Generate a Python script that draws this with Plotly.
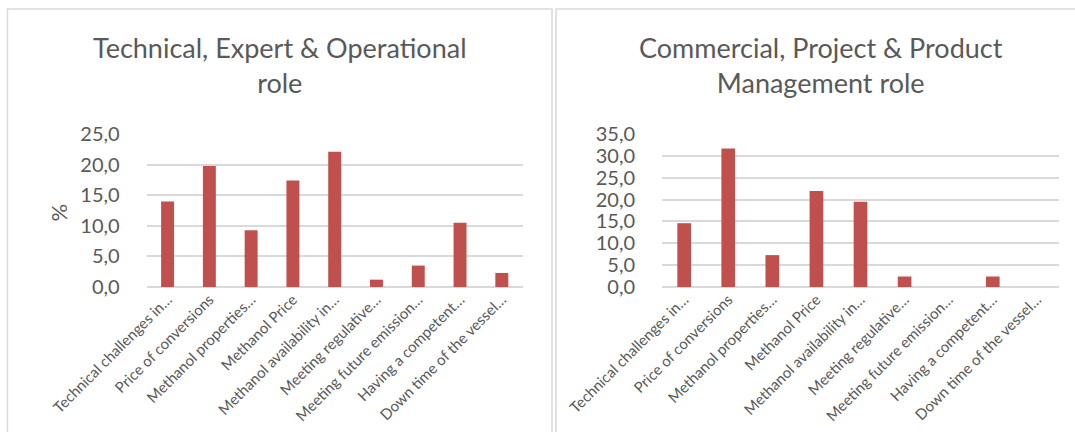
import plotly.graph_objects as go

# Survey answers: share of responses (%) per barrier, by respondent role
categories = [
    "Technical challenges in…",
    "Price of conversions",
    "Methanol properties…",
    "Methanol Price",
    "Methanol availability in…",
    "Meeting regulative…",
    "Meeting future emission…",
    "Having a competent…",
    "Down time of the vessel…",
]
technical_role = [14.0, 19.8, 9.3, 17.4, 22.1, 1.2, 3.5, 10.5, 2.3]
commercial_role = [14.6, 31.7, 7.3, 22.0, 19.5, 2.4, 0.0, 2.4, 0.0]

title_left = "Technical, Expert & Operational<br>role"
title_right = "Commercial, Project & Product<br>Management role"
y_title = "%"

W, H = 1075, 432
BAR = "#C0504D"
GRID = "#D9D9D9"
TEXT = "#595959"
FONT = "Lato"


def px(x):
    return x / W


def py(y):
    return 1 - y / H


fig = go.Figure()
fig.add_trace(go.Bar(x=categories, y=technical_role, marker_color=BAR,
                     marker_line_width=0, xaxis="x", yaxis="y"))
fig.add_trace(go.Bar(x=categories, y=commercial_role, marker_color=BAR,
                     marker_line_width=0, xaxis="x2", yaxis="y2"))

xcommon = dict(
    showgrid=False, showline=False, ticks="", tickangle=-45, automargin=False,
    tickfont=dict(family=FONT, size=15, color=TEXT), fixedrange=True,
)
ycommon = dict(
    showgrid=True, gridcolor=GRID, gridwidth=1.6, zeroline=True,
    zerolinecolor=GRID, zerolinewidth=1.6, showline=False, automargin=False,
    tickformat=".1f", dtick=5, ticks="outside", ticklen=22,
    tickcolor="rgba(0,0,0,0)",
    tickfont=dict(family=FONT, size=20, color=TEXT),
)

fig.update_layout(
    width=W, height=H,
    margin=dict(l=0, r=0, t=0, b=0, autoexpand=False),
    paper_bgcolor="white", plot_bgcolor="white",
    separators=",.",
    showlegend=False,
    bargap=0.69,
    xaxis=dict(domain=[px(146.7), px(522.7)], anchor="y", **xcommon),
    yaxis=dict(domain=[py(287), py(134)], range=[0, 25.02], anchor="x", **ycommon),
    xaxis2=dict(domain=[px(662.1), px(1058.9)], anchor="y2", **xcommon),
    yaxis2=dict(domain=[py(287), py(134)], range=[0, 35.02], anchor="x2", **ycommon),
)

# Chart frames
fig.add_shape(type="rect", xref="paper", yref="paper",
              x0=px(7.5), x1=px(552), y0=-0.2, y1=py(9),
              line=dict(color=GRID, width=1.5), fillcolor="rgba(0,0,0,0)")
fig.add_shape(type="rect", xref="paper", yref="paper",
              x0=px(556), x1=1.2, y0=-0.2, y1=py(9),
              line=dict(color=GRID, width=1.5), fillcolor="rgba(0,0,0,0)")

# Chart titles
fig.add_annotation(text=title_left, xref="paper", yref="paper",
                   x=px(280), y=py(65), xanchor="center", yanchor="middle",
                   showarrow=False, font=dict(family=FONT, size=27, color=TEXT))
fig.add_annotation(text=title_right, xref="paper", yref="paper",
                   x=px(821), y=py(65), xanchor="center", yanchor="middle",
                   showarrow=False, font=dict(family=FONT, size=27, color=TEXT))

# Y-axis title of the left chart
fig.add_annotation(text=y_title, xref="paper", yref="paper",
                   x=px(57.5), y=py(213), xanchor="center", yanchor="middle",
                   textangle=-90, showarrow=False,
                   font=dict(family=FONT, size=22, color=TEXT))

fig.write_html("out.html")
